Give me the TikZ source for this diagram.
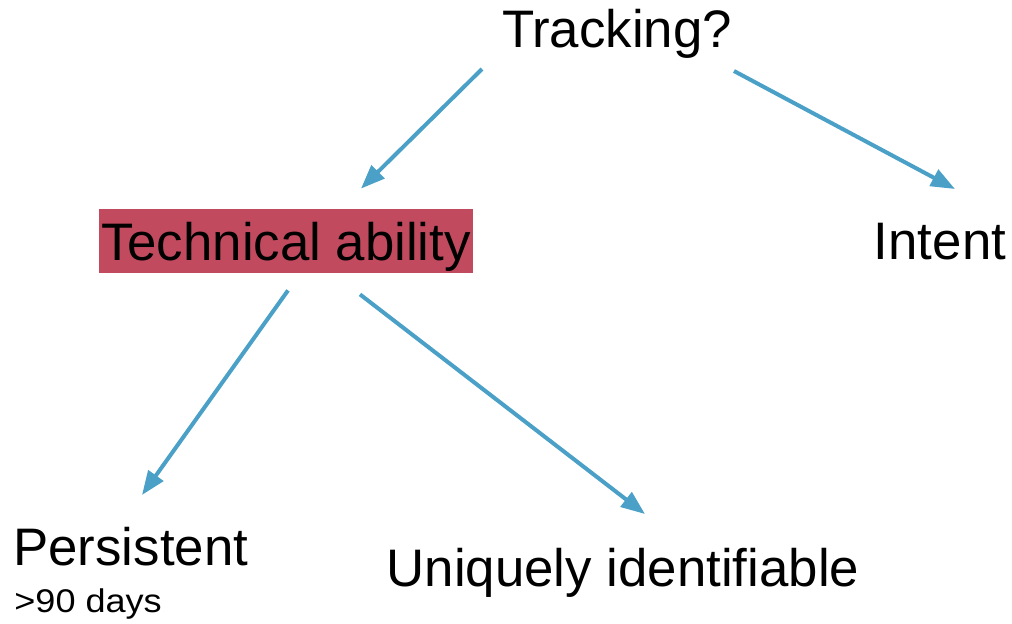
\documentclass[tikz,border=0pt]{standalone}
\usepackage{fontspec}
\setmainfont{Liberation Sans}
\newfontfamily\widesans[FakeStretch=1.1]{Liberation Sans}
\usetikzlibrary{positioning, arrows.meta, calc}
\definecolor{arrowblue}{RGB}{74,160,198}
\definecolor{boxred}{RGB}{194,74,95}

\begin{document}
\begin{tikzpicture}[
  x=0.5pt, y=-0.5pt,
  % Node Styles
  bigtext/.style={font=\fontsize{26.4}{30}\selectfont, inner sep=0pt, text=black},
  hilite/.style={bigtext, fill=boxred, inner xsep=1pt, text height=25.5pt, text depth=6.5pt, minimum width=187pt},
  smalltext/.style={font=\widesans\fontsize{16.4}{19}\selectfont, inner sep=0pt, text=black},
  % Arrow Styles
  bluearrow/.style={-{Triangle[length=12pt, width=9pt]}, line width=2pt, arrowblue}
]
\useasboundingbox (0,0) rectangle (1012,623);

% Nodes
\node[bigtext, anchor=base] (Tracking) at (617,47) {Tracking?};
\node[hilite, anchor=base] (Technical) at (286,260) {Technical ability};
\node[bigtext, anchor=base] (Intent) at (940,259) {Intent};
\node[bigtext, anchor=base west] (Persistent) at (13,565) {Persistent};
\node[smalltext, anchor=base west] (Days) at ($(Persistent.base west)+(1,47)$) {>90 days};
\node[bigtext, anchor=base] (Unique) at (623,586) {Uniquely identifiable};

% Arrows
\draw[bluearrow] ($(Tracking.base)+(-135,22)$) -- ($(Technical.north)+(75,-20)$);
\draw[bluearrow] ($(Tracking.base)+(117,24)$) -- ($(Intent.base)+(15,-70)$);
\draw[bluearrow] ($(Technical.south)+(2,17)$) -- ($(Persistent.base west)+(129,-70)$); % down to Persistent
\draw[bluearrow] ($(Technical.south)+(74,21)$) -- ($(Unique.base)+(22,-72)$);

\end{tikzpicture}
\end{document}
